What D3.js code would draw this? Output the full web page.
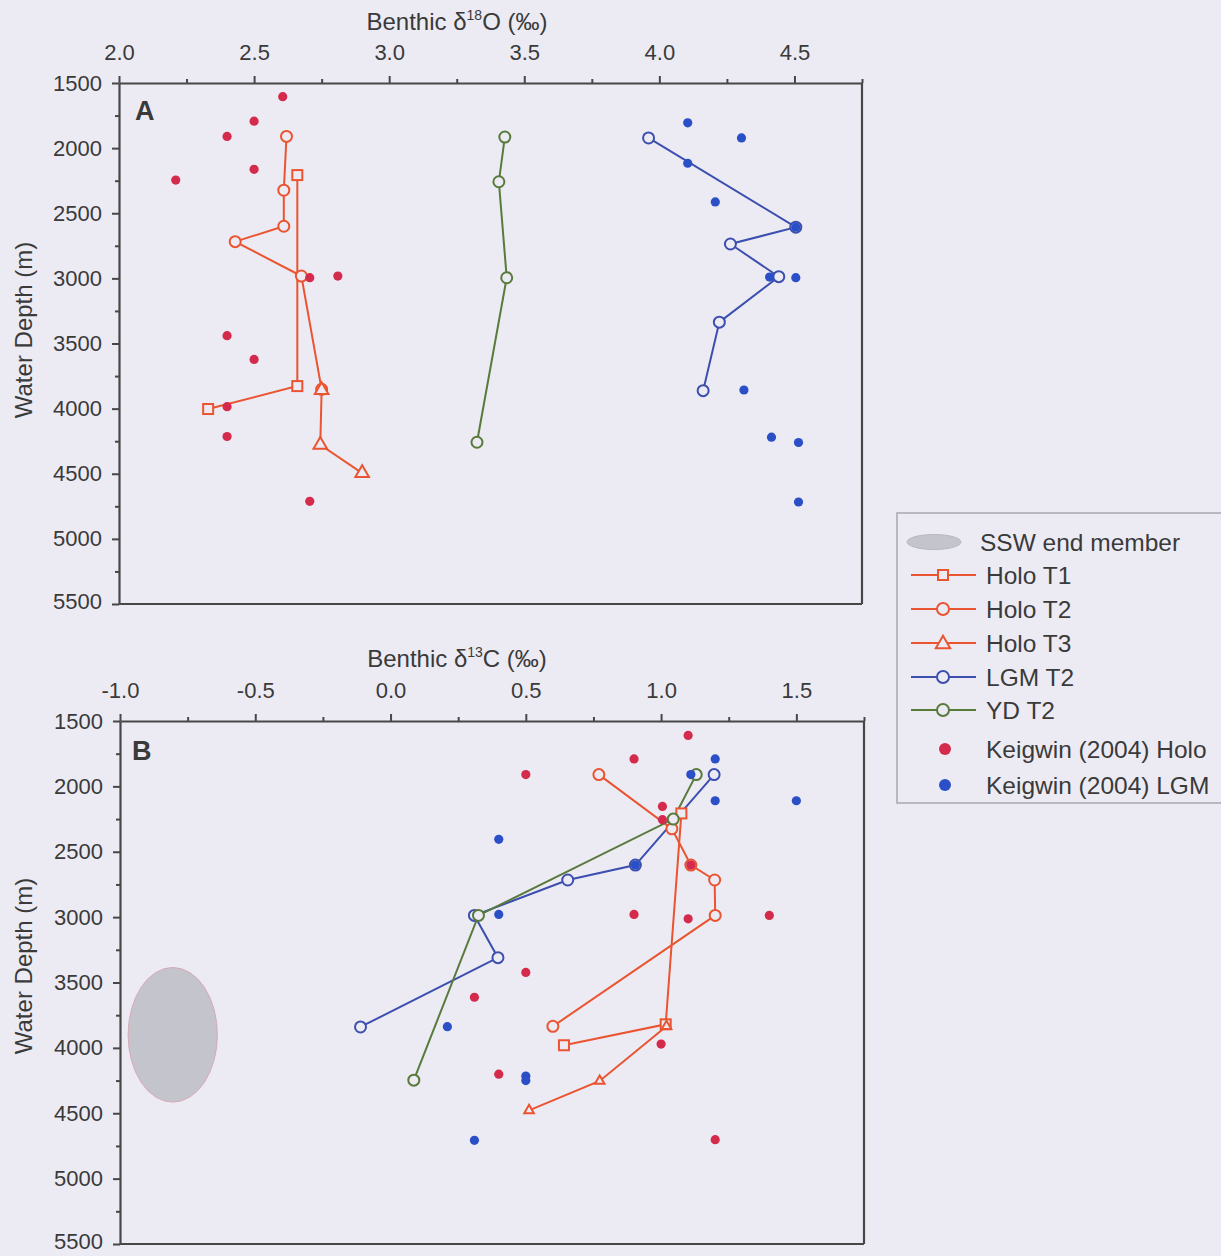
<!DOCTYPE html>
<html><head><meta charset="utf-8">
<script src="https://cdn.jsdelivr.net/npm/d3@7"></script>
<style>
html,body{margin:0;padding:0;background:#ecebf4;}
svg{display:block;}
text{font-family:"Liberation Sans",Arial,sans-serif;fill:#3a3a3a;}
</style></head><body>
<svg id="chart" width="1221" height="1256"></svg>
<script>
// ---------- tick values and labels ----------
const depthTicks = [1500, 2000, 2500, 3000, 3500, 4000, 4500, 5000, 5500];
const depthLabels = ["1500", "2000", "2500", "3000", "3500", "4000", "4500", "5000", "5500"];
const depthMinor = [1750, 2250, 2750, 3250, 3750, 4250, 4750, 5250];
const d18OTicks = [2.0, 2.5, 3.0, 3.5, 4.0, 4.5];
const d18OLabels = ["2.0", "2.5", "3.0", "3.5", "4.0", "4.5"];
const d18OMinor = [2.25, 2.75, 3.25, 3.75, 4.25, 4.75];
const d13CTicks = [-1.0, -0.5, 0.0, 0.5, 1.0, 1.5];
const d13CLabels = ["-1.0", "-0.5", "0.0", "0.5", "1.0", "1.5"];
const d13CMinor = [-0.75, -0.25, 0.25, 0.75, 1.25, 1.75];

// ---------- series names ----------
const legendNames = ["SSW end member", "Holo T1", "Holo T2", "Holo T3", "LGM T2", "YD T2",
  "Keigwin (2004) Holo", "Keigwin (2004) LGM"];

// ---------- Panel A: benthic d18O [value, depth m] ----------
const holoT1_O = [[2.66, 2207], [2.66, 3827], [2.33, 4003]];
const holoT2_O = [[2.62, 1910], [2.61, 2323], [2.61, 2600], [2.43, 2718], [2.675, 2982], [2.75, 3852]];
const holoT3_O = [[2.75, 3857], [2.745, 4278], [2.90, 4495]];
const lgmT2_O = [[3.96, 1922], [4.505, 2607], [4.263, 2736], [4.442, 2987], [4.222, 3336], [4.162, 3862]];
const ydT2_O = [[3.428, 1915], [3.406, 2258], [3.435, 2995], [3.325, 4258]];
const keigHolo_O = [[2.606, 1605], [2.50, 1793], [2.40, 1910], [2.50, 2163], [2.21, 2245], [2.706, 2995],
  [2.81, 2982], [2.40, 3440], [2.50, 3622], [2.40, 3985], [2.40, 4214], [2.706, 4712]];
const keigLgm_O = [[4.105, 1806], [4.304, 1922], [4.105, 2116], [4.207, 2413], [4.505, 2607], [4.408, 2990],
  [4.505, 2995], [4.313, 3857], [4.415, 4219], [4.515, 4260], [4.515, 4717]];

// ---------- Panel B: benthic d13C [value, depth m] ----------
const holoT1_C = [[1.075, 2207], [1.017, 3820], [0.641, 3980]];
const holoT2_C = [[0.77, 1910], [1.04, 2325], [1.11, 2602], [1.198, 2716], [1.20, 2987], [0.60, 3835]];
const holoT3_C = [[1.02, 3835], [0.773, 4253], [0.512, 4478]];
const lgmT2_C = [[1.196, 1910], [0.905, 2602], [0.655, 2716], [0.31, 2987], [0.397, 3310], [-0.111, 3840]];
const ydT2_C = [[1.13, 1910], [1.045, 2250], [0.325, 2987], [0.086, 4247]];
const keigHolo_C = [[1.10, 1610], [0.90, 1790], [0.50, 1910], [1.005, 2153], [1.005, 2255], [1.11, 2602],
  [0.90, 2979], [1.40, 2987], [1.10, 3013], [0.50, 3423], [0.31, 3613], [1.00, 3971], [0.40, 4201], [1.20, 4702]];
const keigLgm_C = [[1.20, 1790], [1.11, 1910], [1.20, 2110], [1.50, 2110], [0.40, 2405], [0.905, 2602],
  [0.40, 2979], [0.21, 3838], [0.50, 4215], [0.50, 4250], [0.31, 4707]];
// SSW end member ellipse: [centre d13C, centre depth, half-width d13C, half-height depth]
const sswEnd = [-0.805, 3900, 0.165, 515];

// ---------- styles ----------
const BG = "#ecebf4";
const C_HOLO = "#ea5430", C_KHOLO = "#d42a4c", C_LGM = "#3c4fae", C_KLGM = "#2b4fc6", C_YD = "#587a3b";
const AXC = "#474747";

const svg = d3.select("#chart");

const xA = d3.scaleLinear().domain([2.0, 4.75]).range([119, 862]);
const yA = d3.scaleLinear().domain([1500, 5500]).range([83, 604]);
const xB = d3.scaleLinear().domain([-1.0, 1.75]).range([120, 864]);
const yB = d3.scaleLinear().domain([1500, 5500]).range([721, 1244]);

function drawAxes(x, y, xt, xl, xm) {
  const g = svg.append("g");
  const top = y.range()[0], bot = y.range()[1], left = x.range()[0], right = x.range()[1];
  const ax = g.append("g").attr("transform", `translate(0,${top})`)
    .call(d3.axisTop(x).tickValues(xt).tickFormat((d, i) => xl[i]).tickSize(7).tickSizeOuter(0).tickPadding(16));
  ax.append("g").call(d3.axisTop(x).tickValues(xm).tickFormat("").tickSize(4).tickSizeOuter(0))
    .select(".domain").remove();
  const ay = g.append("g").attr("transform", `translate(${left},0)`)
    .call(d3.axisLeft(y).tickValues(depthTicks).tickFormat((d, i) => depthLabels[i]).tickSize(7).tickSizeOuter(0).tickPadding(10));
  ay.append("g").call(d3.axisLeft(y).tickValues(depthMinor).tickFormat("").tickSize(4).tickSizeOuter(0))
    .select(".domain").remove();
  g.selectAll(".domain").attr("stroke", AXC).attr("stroke-width", 2.2);
  g.selectAll(".tick line").attr("stroke", AXC).attr("stroke-width", 2);
  g.selectAll(".tick text").attr("font-size", 22).attr("fill", "#3a3a3a")
    .attr("font-family", '"Liberation Sans",Arial,sans-serif');
  // keep the bottom depth label inside the page
  ay.selectAll(".tick text").filter(d => d === 5500).attr("dy", "0.22em");
  g.append("line").attr("x1", right).attr("x2", right).attr("y1", top).attr("y2", bot)
    .attr("stroke", AXC).attr("stroke-width", 2.2);
  g.append("line").attr("x1", left).attr("x2", right).attr("y1", bot).attr("y2", bot)
    .attr("stroke", AXC).attr("stroke-width", 2.2);
}

function drawSeries(x, y, data, color) {
  const line = d3.line().x(d => x(d[0])).y(d => y(d[1]));
  svg.append("path").attr("d", line(data)).attr("fill", "none").attr("stroke", color).attr("stroke-width", 2);
}
function drawMarkers(x, y, data, color, shape, msize) {
  const g = svg.append("g");
  if (shape === "circle") {
    g.selectAll("circle").data(data).join("circle")
      .attr("cx", d => x(d[0])).attr("cy", d => y(d[1])).attr("r", msize)
      .attr("fill", BG).attr("stroke", color).attr("stroke-width", 2);
  } else if (shape === "square") {
    g.selectAll("rect").data(data).join("rect")
      .attr("x", d => x(d[0]) - msize / 2).attr("y", d => y(d[1]) - msize / 2)
      .attr("width", msize).attr("height", msize)
      .attr("fill", BG).attr("stroke", color).attr("stroke-width", 2);
  } else {
    g.selectAll("path").data(data).join("path")
      .attr("transform", d => `translate(${x(d[0])},${y(d[1])})`)
      .attr("d", d3.symbol(d3.symbolTriangle, msize)())
      .attr("fill", BG).attr("stroke", color).attr("stroke-width", 2);
  }
}
function drawDots(x, y, data, color) {
  svg.append("g").selectAll("circle").data(data).join("circle")
    .attr("cx", d => x(d[0])).attr("cy", d => y(d[1])).attr("r", 4.6).attr("fill", color);
}

// ---------- Panel A ----------
drawAxes(xA, yA, d18OTicks, d18OLabels, d18OMinor);
[[holoT1_O, C_HOLO], [holoT2_O, C_HOLO], [holoT3_O, C_HOLO], [lgmT2_O, C_LGM], [ydT2_O, C_YD]]
  .forEach(([d, c]) => drawSeries(xA, yA, d, c));
drawMarkers(xA, yA, holoT1_O, C_HOLO, "square", 10);
drawMarkers(xA, yA, holoT2_O, C_HOLO, "circle", 5.5);
drawMarkers(xA, yA, holoT3_O, C_HOLO, "triangle", 80);
drawMarkers(xA, yA, lgmT2_O, C_LGM, "circle", 5.5);
drawMarkers(xA, yA, ydT2_O, C_YD, "circle", 5.5);
drawDots(xA, yA, keigHolo_O, C_KHOLO);
drawDots(xA, yA, keigLgm_O, C_KLGM);

// ---------- Panel B ----------
drawAxes(xB, yB, d13CTicks, d13CLabels, d13CMinor);
svg.append("ellipse")
  .attr("cx", xB(sswEnd[0])).attr("cy", yB(sswEnd[1]))
  .attr("rx", xB(sswEnd[0] + sswEnd[2]) - xB(sswEnd[0]))
  .attr("ry", yB(sswEnd[1] + sswEnd[3]) - yB(sswEnd[1]))
  .attr("fill", "#c4c4cd").attr("stroke", "#d8aab8").attr("stroke-width", 1);
[[holoT1_C, C_HOLO], [holoT2_C, C_HOLO], [holoT3_C, C_HOLO], [lgmT2_C, C_LGM], [ydT2_C, C_YD]]
  .forEach(([d, c]) => drawSeries(xB, yB, d, c));
drawMarkers(xB, yB, holoT1_C, C_HOLO, "square", 10);
drawMarkers(xB, yB, holoT2_C, C_HOLO, "circle", 5.5);
drawMarkers(xB, yB, holoT3_C, C_HOLO, "triangle", 40);
drawMarkers(xB, yB, lgmT2_C, C_LGM, "circle", 5.5);
drawMarkers(xB, yB, ydT2_C, C_YD, "circle", 5.5);
drawDots(xB, yB, keigHolo_C, C_KHOLO);
drawDots(xB, yB, keigLgm_C, C_KLGM);

// ---------- titles ----------
function xTitle(cx, by, sup, el) {
  const t = svg.append("text").attr("x", cx).attr("y", by).attr("text-anchor", "middle").attr("font-size", 24);
  t.append("tspan").text("Benthic δ");
  t.append("tspan").attr("font-size", 14).attr("dy", -10).text(sup);
  t.append("tspan").attr("dy", 10).text(el + " (‰)");
}
xTitle(457, 30, "18", "O");
xTitle(457, 667, "13", "C");
function yTitle(cx, cy) {
  svg.append("text").attr("transform", `translate(${cx},${cy}) rotate(-90)`)
    .attr("text-anchor", "middle").attr("font-size", 24).text("Water Depth (m)");
}
yTitle(32, 330);
yTitle(32, 966);
svg.append("text").attr("x", 135).attr("y", 120).attr("font-size", 27).attr("font-weight", "bold").text("A");
svg.append("text").attr("x", 132).attr("y", 760).attr("font-size", 27).attr("font-weight", "bold").text("B");

// ---------- legend ----------
const lg = svg.append("g");
lg.append("rect").attr("x", 897).attr("y", 513).attr("width", 340).attr("height", 290)
  .attr("fill", "none").attr("stroke", "#a8a8b0").attr("stroke-width", 1.5);
const rowY = [542, 575, 609, 643, 677, 710, 749, 785];
const legItems = [
  {type: "ellipse"},
  {type: "line", color: C_HOLO, shape: "square"},
  {type: "line", color: C_HOLO, shape: "circle"},
  {type: "line", color: C_HOLO, shape: "triangle"},
  {type: "line", color: C_LGM, shape: "circle"},
  {type: "line", color: C_YD, shape: "circle"},
  {type: "dot", color: C_KHOLO},
  {type: "dot", color: C_KLGM}
];
legItems.forEach((it, i) => {
  const cy = rowY[i];
  if (it.type === "ellipse") {
    lg.append("ellipse").attr("cx", 934).attr("cy", cy).attr("rx", 27).attr("ry", 7.5)
      .attr("fill", "#c4c4cd").attr("stroke", "#b8b8c2");
  } else if (it.type === "line") {
    lg.append("line").attr("x1", 911).attr("x2", 976).attr("y1", cy).attr("y2", cy)
      .attr("stroke", it.color).attr("stroke-width", 2);
    if (it.shape === "circle") lg.append("circle").attr("cx", 943).attr("cy", cy).attr("r", 6)
      .attr("fill", BG).attr("stroke", it.color).attr("stroke-width", 2);
    else if (it.shape === "square") lg.append("rect").attr("x", 938).attr("y", cy - 5).attr("width", 10).attr("height", 10)
      .attr("fill", BG).attr("stroke", it.color).attr("stroke-width", 2);
    else lg.append("path").attr("transform", `translate(943,${cy + 1})`).attr("d", d3.symbol(d3.symbolTriangle, 90)())
      .attr("fill", BG).attr("stroke", it.color).attr("stroke-width", 2);
  } else {
    lg.append("circle").attr("cx", 945).attr("cy", cy).attr("r", 6).attr("fill", it.color);
  }
  lg.append("text").attr("x", i === 0 ? 980 : 986).attr("y", cy + 8.5).attr("font-size", 24.5).text(legendNames[i]);
});
</script>
</body></html>
